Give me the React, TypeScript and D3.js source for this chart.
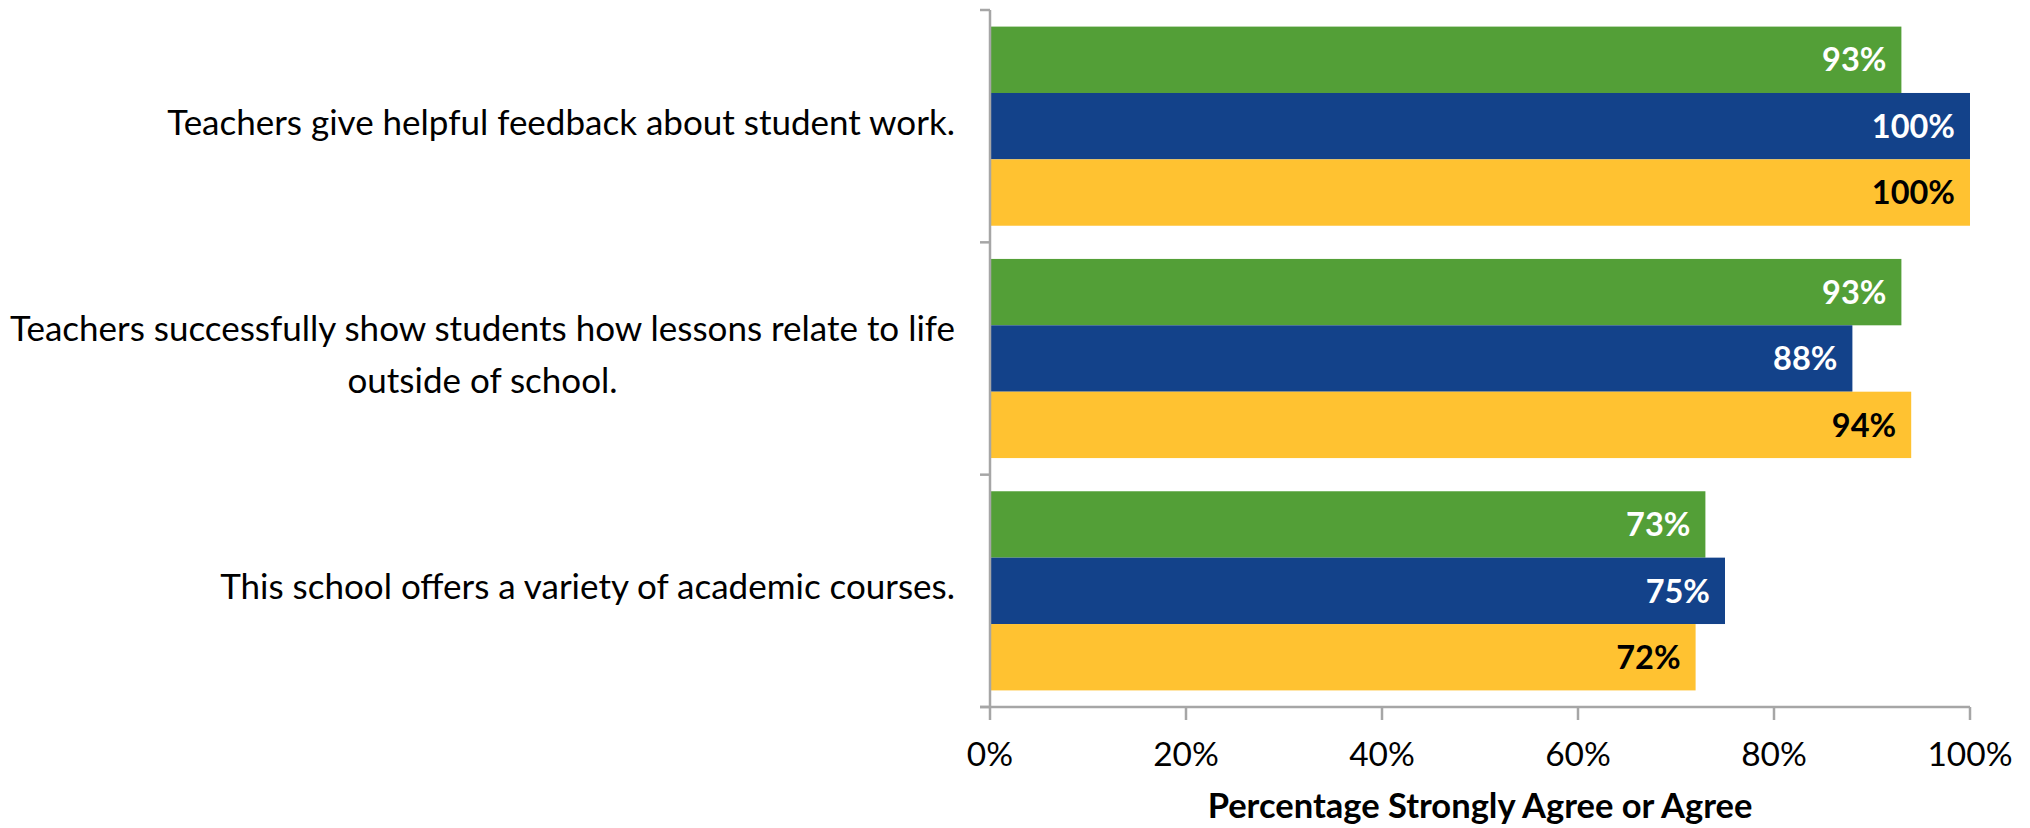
import React, { useEffect, useRef } from "react";
import * as d3 from "d3";

const categories = [
  ["Teachers give helpful feedback about student work."],
  ["Teachers successfully show students how lessons relate to life", "outside of school."],
  ["This school offers a variety of academic courses."],
];
const seriesNames = ["School", "District", "State"];
const seriesColors = ["#539F37", "#13428A", "#FFC231"];
const labelColors = ["#FFFFFF", "#FFFFFF", "#000000"];
const values = [
  [0.93, 1.0, 1.0],
  [0.93, 0.88, 0.94],
  [0.73, 0.75, 0.72],
];
const xTicks = [0, 0.2, 0.4, 0.6, 0.8, 1.0];
const xTitle = "Percentage Strongly Agree or Agree";

const W = 2030;
const H = 828;
const FONT = "Lato, 'Open Sans', sans-serif";

export default function App() {
  const ref = useRef<SVGSVGElement>(null);
  useEffect(() => {
    const svg = d3.select(ref.current);
    svg.selectAll("*").remove();
    const x = d3.scaleLinear().domain([0, 1]).range([990, 1970]);
    const idx = categories.map((_, i) => String(i));
    const y = d3.scaleBand().domain(idx).range([10, 707]).paddingInner(0).paddingOuter(0);
    const y1 = d3
      .scaleBand()
      .domain(seriesNames)
      .range([0, y.bandwidth()])
      .paddingInner(0)
      .paddingOuter(0.25);

    // bars
    categories.forEach((_, ci) => {
      const g = svg.append("g").attr("transform", `translate(0,${y(String(ci))})`);
      seriesNames.forEach((s, si) => {
        const v = values[ci][si];
        g.append("rect")
          .attr("x", x(0))
          .attr("y", y1(s)!)
          .attr("width", x(v) - x(0))
          .attr("height", y1.bandwidth())
          .attr("fill", seriesColors[si]);
        g.append("text")
          .attr("x", x(v) - 15)
          .attr("y", (y1(s) as number) + y1.bandwidth() / 2)
          .attr("dy", "0.36em")
          .attr("text-anchor", "end")
          .attr("font-family", FONT)
          .attr("font-weight", "bold")
          .attr("font-size", 32.5)
          .attr("fill", labelColors[si])
          .text(Math.round(v * 100) + "%");
      });
    });

    const axisColor = "#A6A6A6";
    // y axis line and ticks
    svg.append("line")
      .attr("x1", x(0)).attr("x2", x(0))
      .attr("y1", 10).attr("y2", 707)
      .attr("stroke", axisColor).attr("stroke-width", 2.5);
    [...idx.map((d) => y(d) as number), 707].forEach((yy) => {
      svg.append("line")
        .attr("x1", x(0) - 10).attr("x2", x(0))
        .attr("y1", yy).attr("y2", yy)
        .attr("stroke", axisColor).attr("stroke-width", 2.5);
    });
    // x axis line and ticks
    svg.append("line")
      .attr("x1", x(0) - 10).attr("x2", x(1))
      .attr("y1", 707).attr("y2", 707)
      .attr("stroke", axisColor).attr("stroke-width", 2.5);
    xTicks.forEach((t) => {
      svg.append("line")
        .attr("x1", x(t)).attr("x2", x(t))
        .attr("y1", 707).attr("y2", 720)
        .attr("stroke", axisColor).attr("stroke-width", 2.5);
      svg.append("text")
        .attr("x", x(t))
        .attr("y", 754)
        .attr("dy", "0.36em")
        .attr("text-anchor", "middle")
        .attr("font-family", FONT)
        .attr("font-size", 33.5)
        .attr("fill", "#000")
        .text(Math.round(t * 100) + "%");
    });
    svg.append("text")
      .attr("x", (x(0) + x(1)) / 2)
      .attr("y", 806)
      .attr("dy", "0.36em")
      .attr("text-anchor", "middle")
      .attr("font-family", FONT)
      .attr("font-weight", "bold")
      .attr("font-size", 34.5)
      .attr("fill", "#000")
      .text(xTitle);

    // category labels
    const rightEdge = 955;
    const lineH = 52;
    categories.forEach((lines, ci) => {
      const cy = (y(String(ci)) as number) + y.bandwidth() / 2 - 4;
      const t = svg.append("text")
        .attr("font-family", FONT)
        .attr("font-size", 35)
        .attr("fill", "#000")
        .attr("text-anchor", "middle");
      const spans = lines.map((l, li) =>
        t.append("tspan")
          .attr("y", cy + (li - (lines.length - 1) / 2) * lineH)
          .attr("dy", "0.36em")
          .text(l)
      );
      const maxW = Math.max(
        ...spans.map((sp) => (sp.node() as SVGTSpanElement).getComputedTextLength())
      );
      spans.forEach((sp) => sp.attr("x", rightEdge - maxW / 2));
    });
  }, []);

  return (
    <svg
      ref={ref}
      width={W}
      height={H}
      style={{ position: "absolute", left: 0, top: 0, background: "#fff" }}
    />
  );
}
